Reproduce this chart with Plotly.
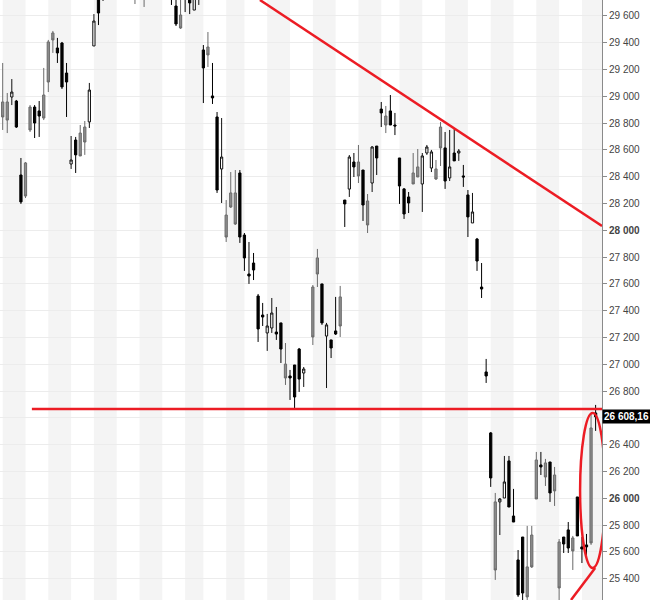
import plotly.graph_objects as go

# Daily candles, indexed by trading-day position (None = not visible on chart)
open_ = [28958, 28958, 28995, 28965, 28413, 28503, 28920, 28920, 28891, 29010,
         29406, 29473, 29361, 29398, 29174, 28495, 28674, 28726, 28771, 28809,
         29376, 29868, 29850, None, None, None, None, None, None, 29790,
         None, 29800, None, None, None, None, None, 29790, 29674, 29607,
         29800, 29868, 29644, 29780, 29346, 29368, 29003, 28846, 28458, 28114,
         28279, 28279, 28428, 27965, 27674, 27756, 27510, 27368, 27234, 27271,
         27241, 27309, 27002, 26913, 26995, 27114, 26935, None, 27577, 27794,
         27600, 27211, 27182, 27249, 27503, 28226, 28308, 28510, 28510, 28450,
         28219, 28353, 28629, 28905, 28853, 28891, 28786, 28540, 28309, 28249,
         28428, 28473, 28346, 28577, 28465, 28458, 28771, 28615, 28391, 28577,
         28577, 28406, 28264, 28055, 27935, 27577, 26943, 26488, 25973, 25973,
         26002, 26279, 25868, 25540, 25711, 25488, 25726, 26286, 26249, 26264,
         26271, 26174, 25674, 25711, 25764, 25704, 26010, 25637, 25652, 26525,
         26637]
high = [29249, 29025, 29129, 28973, 28540, 28510, 28935, 28935, 28965, 29212,
        29421, 29488, 29436, 29406, 29249, 28704, 28697, 28786, 28816, 29100,
        29614, 29900, 29920, None, None, None, None, None, None, 29850,
        None, 29880, None, None, None, None, None, 29850, 29794, 29756,
        29830, 29900, 29830, 29840, 29383, 29480, 29249, 28883, 28838, 28226,
        28435, 28450, 28450, 27980, 27913, 27831, 27525, 27458, 27376, 27495,
        27428, 27309, 27159, 26958, 26995, 27122, 26980, None, 27592, 27861,
        27600, 27309, 27182, 27503, 27585, 28226, 28562, 28577, 28637, 28450,
        28271, 28629, 28629, 28958, 28928, 29010, 28876, 28540, 28316, 28286,
        28577, 28607, 28577, 28637, 28600, 28525, 28809, 28734, 28749, 28756,
        28607, 28488, 28301, 28279, 27943, 27756, 27040, 26495, 26040, 26002,
        26316, 26316, 26070, 25614, 25711, 25794, 25794, 26346, 26346, 26294,
        26271, 26234, 25696, 25711, 25823, 25719, 26010, 25711, 25734, 26637,
        26697]
low = [28749, 28726, 28935, 28764, 28197, 28241, 28734, 28689, 28697, 28823,
       29032, 29324, 29249, 29055, 28846, 28458, 28428, 28555, 28563, 28764,
       29376, 29532, 29712, None, None, None, None, None, None, 29689,
       None, 29667, None, None, None, None, None, 29682, 29525, 29503,
       29629, 29614, 29644, 29682, 28950, 29219, 28943, 28279, 28204, 27913,
       28167, 28040, 27906, 27697, 27600, 27629, 27167, 27286, 27100, 27234,
       27182, 27010, 26846, 26734, 26667, 26794, 26831, None, 27144, 27577,
       27294, 26823, 27047, 27219, 27204, 28025, 28249, 28398, 28353, 28070,
       27980, 28286, 28413, 28771, 28726, 28786, 28711, 28197, 28085, 28129,
       28346, 28398, 28137, 28563, 28435, 28376, 28480, 28309, 28368, 28518,
       28518, 28324, 27950, 28055, 27697, 27495, 26861, 26085, 25391, 25726,
       26002, 25935, 25823, 25264, 25204, 25204, 25480, 25995, 26174, 26092,
       25973, 25943, 25204, 25592, 25592, 25465, 25719, 25517, 25547, 25652,
       26503]
close = [28846, 28823, 29032, 28771, 28212, 28256, 28749, 28801, 28853, 28838,
         29107, 29421, 29324, 29070, 29107, 28525, 28563, 28555, 28659, 29047,
         29562, 29622, 29780, None, None, None, None, None, None, 29760,
         None, 29760, None, None, None, None, None, 29760, 29540, 29510,
         29760, 29697, 29794, 29800, 29212, 29309, 28988, 28301, 28547, 27950,
         28174, 28047, 27950, 27794, 27659, 27704, 27264, 27353, 27286, 27383,
         27226, 27114, 26898, 26898, 26756, 26890, 26965, None, 27204, 27674,
         27309, 27294, 27122, 27226, 27286, 28197, 28547, 28473, 28406, 28189,
         28040, 28622, 28540, 28876, 28786, 28786, 28779, 28331, 28122, 28204,
         28346, 28398, 28555, 28622, 28585, 28383, 28615, 28368, 28473, 28518,
         28592, 28398, 28100, 28137, 27771, 27562, 26913, 26152, 25465, 25995,
         26122, 25935, 25823, 25279, 25293, 25264, 25488, 25995, 26234, 26159,
         26040, 26055, 25331, 25659, 25629, 25607, 25719, 25622, 25637, 25667,
         26608.16]
# candle style: B = black body, G = grey body, H = hollow body
style = list("GGHBBGGBBG" "GGBBBHBGGH" "HBBBBBBBBG" "BGBBBBBBBG"
             "BBHBBGBBHG" "GGBBBBBBHH" "BBGBBBHBGG" "BHBBGBHBGB"
             "GHBBGBBBBB" "GGHHHGGBHB" "HBBHBBBBGH" "HBBBBGGGBG"
             "BGGBBGBBBG" "B")

# week boundaries (trading-day index) for the alternating background bands
week_starts = [0, 5, 10, 15, 20, 25, 30, 35, 40, 44, 49, 53, 58, 63, 68, 73,
               78, 83, 87, 92, 97, 102, 107, 112, 117, 122, 127, 132]

tick_vals = [25400, 25600, 25800, 26000, 26200, 26400, 26600, 26800, 27000,
             27200, 27400, 27600, 27800, 28000, 28200, 28400, 28600, 28800,
             29000, 29200, 29400, 29600]
# the 26 600 label is hidden behind the last-price tag in the reference
tick_text = ["25 400", "25 600", "25 800", "<b>26 000</b>", "26 200", "26 400",
             "", "26 800", "27 000", "27 200", "27 400", "27 600", "27 800",
             "<b>28 000</b>", "28 200", "28 400", "28 600", "28 800", "29 000",
             "29 200", "29 400", "29 600"]

last_price = 26608.16
last_label = "26 608,16"

# annotation lines (index, price)
trend_down = [(56.4, 29719), (131.4, 28032)]
support_level = 26667
support_start = 6.4
trend_up = [(124.6, 25241), (129.9, 25480)]
ellipse_box = [(126.6, 25480), (132.1, 26637)]

RED = "#ec1c24"

def pick(kind):
    xs, o, h, l, c = [], [], [], [], []
    for i in range(len(open_)):
        if open_[i] is None:
            continue
        if (style[i] == "G") == (kind == "G"):
            xs.append(i); o.append(open_[i]); h.append(high[i])
            l.append(low[i]); c.append(close[i])
    return xs, o, h, l, c

fig = go.Figure()

xs, o, h, l, c = pick("BH")
fig.add_trace(go.Candlestick(
    x=xs, open=o, high=h, low=l, close=c,
    increasing=dict(fillcolor="white", line=dict(color="#111111", width=1)),
    decreasing=dict(fillcolor="#000000", line=dict(color="#000000", width=1)),
    whiskerwidth=0, showlegend=False, hoverinfo="skip"))
xs, o, h, l, c = pick("G")
fig.add_trace(go.Candlestick(
    x=xs, open=o, high=h, low=l, close=c,
    increasing=dict(fillcolor="#8e8e8e", line=dict(color="#6a6a6a", width=1)),
    decreasing=dict(fillcolor="#8e8e8e", line=dict(color="#6a6a6a", width=1)),
    whiskerwidth=0, showlegend=False, hoverinfo="skip"))

shapes = []
for k in range(len(week_starts) - 1):
    if k % 2 == 0:
        shapes.append(dict(type="rect", xref="x", yref="paper",
                           x0=week_starts[k], x1=week_starts[k + 1], y0=0, y1=1,
                           fillcolor="#f4f4f4", line=dict(width=0), layer="below"))
shapes.append(dict(type="line", xref="x", yref="y",
                   x0=trend_down[0][0], y0=trend_down[0][1],
                   x1=trend_down[1][0], y1=trend_down[1][1],
                   line=dict(color=RED, width=2.5)))
shapes.append(dict(type="line", xref="x", yref="y",
                   x0=support_start, y0=support_level, x1=131.4, y1=support_level,
                   line=dict(color=RED, width=2.5)))
shapes.append(dict(type="line", xref="x", yref="y",
                   x0=trend_up[0][0], y0=trend_up[0][1],
                   x1=trend_up[1][0], y1=trend_up[1][1],
                   line=dict(color=RED, width=2.5)))
shapes.append(dict(type="circle", xref="x", yref="y",
                   x0=ellipse_box[0][0], y0=ellipse_box[0][1],
                   x1=ellipse_box[1][0], y1=ellipse_box[1][1],
                   line=dict(color=RED, width=2.5)))

fig.update_layout(
    width=650, height=600,
    margin=dict(l=0, r=48, t=0, b=0),
    paper_bgcolor="white", plot_bgcolor="white",
    shapes=shapes,
    font=dict(family="Liberation Sans, Arial, sans-serif"),
    xaxis=dict(range=[-0.59, 131.4], visible=False, rangeslider=dict(visible=False),
               showgrid=False, zeroline=False),
    yaxis=dict(side="right", range=[25241, 29719], tickmode="array",
               tickvals=tick_vals, ticktext=tick_text,
               showgrid=True, gridcolor="#ececec", gridwidth=1, zeroline=False,
               showline=True, linecolor="#8a8a8a", linewidth=1,
               ticks="outside", ticklen=4, tickcolor="#8a8a8a",
               tickfont=dict(size=10, color="#444444",
                             family="Liberation Sans, Arial, sans-serif")),
    annotations=[dict(x=1, xref="paper", y=last_price, yref="y",
                      xanchor="left", yanchor="middle", showarrow=False,
                      text="<b>" + last_label + "</b>", bgcolor="black",
                      font=dict(color="white", size=10,
                                family="Liberation Sans, Arial, sans-serif"),
                      borderpad=1)],
)

fig.write_html("out.html", config={"displayModeBar": False},
               post_script="document.body.style.margin='0px';")
